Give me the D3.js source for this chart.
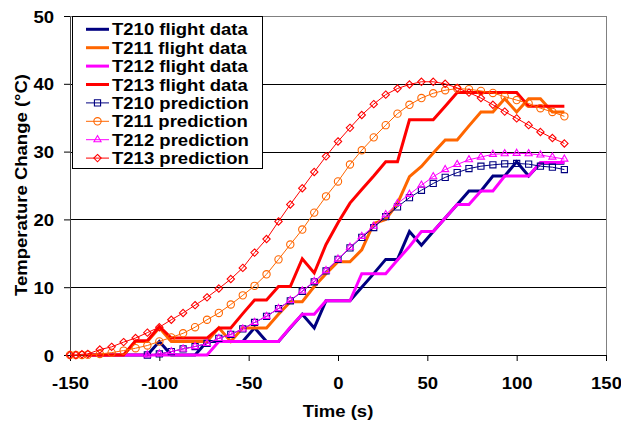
<!DOCTYPE html>
<html>
<head>
<meta charset="utf-8">
<script src="https://cdn.jsdelivr.net/npm/d3@7"></script>
<style>
  html, body { margin: 0; padding: 0; background: #fff; }
  svg { display: block; }
  text { font-family: "Liberation Sans", Arial, sans-serif; font-weight: bold; }
</style>
</head>
<body>
<svg id="chart" width="621" height="422"></svg>
<script>
// Model prediction time grid (s)
const predTime = [-150, -146.7, -143.3, -140, -133.3, -126.7, -120, -113.3, -106.7, -100,
  -93.3, -86.7, -80, -73.3, -66.7, -60, -53.3, -46.7, -40, -33.3, -26.7, -20, -13.3, -6.7,
  0, 6.7, 13.3, 20, 26.7, 33.3, 40, 46.7, 53.3, 60, 66.7, 73.3, 80, 86.7, 93.3, 100, 106.7,
  113.3, 120, 126.7];

const t213Pred = [0, 0, 0.1, 0.15, 0.8, 1.2, 1.9, 2.5, 3.3, 4.1, 5.2, 6.2, 7.35, 8.5, 9.8,
  11.2, 12.85, 15.1, 17.1, 19.7, 22.2, 24.6, 27.0, 29.3, 31.5, 33.5, 35.4, 37.0, 38.4, 39.3,
  39.9, 40.3, 40.3, 40.0, 39.4, 38.7, 37.9, 36.9, 35.9, 34.9, 33.9, 32.9, 32.0, 31.2];

const t211Pred = [0, 0, 0, 0.05, 0.15, 0.35, 0.65, 1.0, 1.4, 2.0, 2.6, 3.2, 4.1, 5.2, 6.2,
  7.45, 8.8, 10.2, 11.9, 14.1, 16.3, 18.5, 21.0, 23.4, 25.6, 28.1, 30.2, 32.1, 33.9, 35.6,
  36.9, 37.9, 38.6, 39.05, 39.3, 39.2, 38.95, 38.65, 38.1, 37.6, 37.1, 36.4, 35.85, 35.2];

// T210 / T212 predictions begin at -106.7 s
const predTimeLate = predTime.slice(8);
const t210Pred = [0, 0.15, 0.5, 0.9, 1.25, 1.7, 2.45, 3.05, 3.85, 4.8, 5.7, 6.85, 8.0, 9.4,
  10.8, 12.4, 14.1, 15.8, 17.35, 18.8, 20.4, 21.85, 23.2, 24.3, 25.3, 26.2, 26.9, 27.5,
  27.85, 28.05, 28.2, 28.25, 28.15, 27.85, 27.7, 27.35];
const t212Pred = [0, 0.15, 0.5, 0.9, 1.25, 1.7, 2.45, 3.05, 3.85, 4.8, 5.7, 6.85, 8.05, 9.45,
  10.85, 12.45, 14.15, 15.9, 17.5, 19.0, 20.7, 22.35, 23.7, 25.05, 26.3, 27.35, 28.1, 28.8,
  29.2, 29.6, 29.7, 29.75, 29.7, 29.5, 29.2, 28.9];

// Flight measurements (s, °C)
const flightTime = [-140, -133.3, -126.7, -120, -113.3, -106.7, -100, -93.3, -86.7, -80,
  -73.3, -66.7, -60, -53.3, -46.7, -40, -33.3, -26.7, -20, -13.3, -6.7, 0, 6.7, 13.3, 20,
  26.7, 33.3, 40, 46.7, 53.3, 60, 66.7, 73.3, 80, 86.7, 93.3, 100, 106.7, 113.3, 120, 126.7];

const t210Flight = [0, 0, 0, 0, 0, 0, 2, 0, 0, 0, 2, 2, 2, 2, 4, 2, 2, 4, 6, 4, 8, 8, 8, 10,
  12, 14.1, 14.1, 18.2, 16.2, 18.2, 20.2, 22.2, 24.2, 24.2, 26.4, 26.4, 28.5, 26.4, 28.3,
  28.3, 28.3];
const t211Flight = [0, 0, 0, 0, 2, 2, 4, 2, 2, 2, 2, 4, 2, 4, 4, 4, 6, 7.85, 7.85, 10.1, 12,
  13.75, 13.75, 15.5, 19.4, 20, 22.35, 26.3, 27.8, 29.8, 31.7, 31.7, 33.8, 35.85, 35.85,
  37.8, 35.85, 37.8, 37.8, 35.85, 35.85];
const t212Flight = [0, 0, 0, 0, 0, 0, 0, 0, 0, 0, 0, 2, 2, 2, 2, 2, 2, 4.1, 6, 6, 8, 8, 8,
  12, 12, 12, 14, 16, 18.2, 18.2, 20.2, 22.2, 22.2, 24.2, 24.2, 26.4, 26.4, 26.4, 28.4,
  28.4, 28.4];
const t213Flight = [0, 0, 0, 0, 2.1, 2.1, 4.2, 2.5, 2.5, 2.5, 2.5, 4, 4, 6.1, 8.1, 8.1, 10.1,
  10.1, 14.2, 12.1, 16.3, 19.5, 22.4, 24.4, 26.4, 28.5, 28.5, 34.7, 34.7, 34.7, 36.7, 38.7,
  38.7, 38.7, 38.7, 38.7, 38.7, 36.7, 36.7, 36.7, 36.7];

const xTicks = [-150, -100, -50, 0, 50, 100, 150];
const yTicks = [0, 10, 20, 30, 40, 50];

// diamond marker: a square turned by 45 degrees
const diamond = {
  draw(ctx, size) {
    const h = Math.sqrt(size / 2);
    ctx.moveTo(0, -h); ctx.lineTo(h, 0); ctx.lineTo(0, h); ctx.lineTo(-h, 0); ctx.closePath();
  }
};

const series = [
  { name: "T210 flight data", t: flightTime, v: t210Flight, color: "#000080", width: 3, marker: null },
  { name: "T211 flight data", t: flightTime, v: t211Flight, color: "#FF6600", width: 3, marker: null },
  { name: "T212 flight data", t: flightTime, v: t212Flight, color: "#FF00FF", width: 3, marker: null },
  { name: "T213 flight data", t: flightTime, v: t213Flight, color: "#FF0000", width: 3, marker: null },
  { name: "T210 prediction", t: predTimeLate, v: t210Pred, color: "#000080", width: 1, marker: d3.symbolSquare, size: 38 },
  { name: "T211 prediction", t: predTime, v: t211Pred, color: "#FF6600", width: 1, marker: d3.symbolCircle, size: 42 },
  { name: "T212 prediction", t: predTimeLate, v: t212Pred, color: "#FF00FF", width: 1, marker: d3.symbolTriangle, size: 22 },
  { name: "T213 prediction", t: predTime, v: t213Pred, color: "#FF0000", width: 1, marker: diamond, size: 27 }
];

const svg = d3.select("#chart");
const pLeft = 70, pRight = 606, pTop = 16, pBottom = 355;
const TX = 1.09; // horizontal stretch of chart lettering

const x = d3.scaleLinear().domain([-150, 150]).range([pLeft, pRight]);
const y = d3.scaleLinear().domain([0, 50]).range([pBottom, pTop]);

// plot frame
svg.append("rect")
  .attr("x", pLeft + 0.5).attr("y", pTop + 0.5)
  .attr("width", pRight - pLeft).attr("height", pBottom - pTop)
  .attr("fill", "#fff").attr("stroke", "#808080").attr("stroke-width", 1);

// horizontal gridlines
svg.append("g").selectAll("line")
  .data(yTicks.filter(d => d > 0 && d < 50))
  .join("line")
  .attr("x1", pLeft).attr("x2", pRight)
  .attr("y1", d => Math.round(y(d)) + 0.5).attr("y2", d => Math.round(y(d)) + 0.5)
  .attr("stroke", "#000").attr("stroke-width", 1);

// axes
const xAxis = svg.append("g")
  .attr("transform", `translate(0,${pBottom})`)
  .call(d3.axisBottom(x).tickValues(xTicks).tickSize(6).tickSizeOuter(0));
xAxis.select(".domain").attr("stroke", "#000");
xAxis.selectAll(".tick line").attr("stroke", "#000");
xAxis.selectAll(".tick text")
  .attr("y", 34).attr("dy", null)
  .attr("transform", `scale(${TX},1)`)
  .attr("font-size", 17).attr("fill", "#000")
  .text(d => String(d));

const yAxis = svg.append("g")
  .attr("transform", `translate(${pLeft},0)`)
  .call(d3.axisLeft(y).tickValues(yTicks).tickSize(6).tickSizeOuter(0));
yAxis.select(".domain").attr("stroke", "#404040");
yAxis.selectAll(".tick line").attr("stroke", "#000");
yAxis.selectAll(".tick text")
  .attr("x", null).attr("dy", "0.36em")
  .attr("transform", `translate(-16,0) scale(${TX},1)`)
  .attr("font-size", 17).attr("fill", "#000")
  .text(d => String(d));

// axis titles
svg.append("text")
  .attr("transform", `translate(338,417) scale(${TX},1)`)
  .attr("text-anchor", "middle").attr("font-size", 17)
  .text("Time (s)");
svg.append("text")
  .attr("transform", `translate(26.5,185) rotate(-90) scale(${TX},1)`)
  .attr("text-anchor", "middle").attr("font-size", 17)
  .text("Temperature Change (°C)");

// series
const line = d3.line().x(d => x(d[0])).y(d => y(d[1]));
const plot = svg.append("g");
series.forEach(s => {
  const pts = s.t.map((t, i) => [t, s.v[i]]);
  plot.append("path")
    .attr("d", line(pts))
    .attr("fill", "none")
    .attr("stroke", s.color)
    .attr("stroke-width", s.width)
    .attr("stroke-linejoin", "miter");
  if (s.marker) {
    plot.append("g").selectAll("path")
      .data(pts)
      .join("path")
      .attr("transform", d => `translate(${x(d[0])},${y(d[1])})`)
      .attr("d", d3.symbol(s.marker, s.size))
      .attr("fill", "none")
      .attr("stroke", s.color)
      .attr("stroke-width", 1.1);
  }
});

// legend
const lg = svg.append("g");
lg.append("rect")
  .attr("x", 72.5).attr("y", 16.5).attr("width", 190).attr("height", 152)
  .attr("fill", "#fff").attr("stroke", "#000").attr("stroke-width", 1);
series.forEach((s, i) => {
  const cy = 29.3 + i * 18.4;
  lg.append("line")
    .attr("x1", 86).attr("x2", 109).attr("y1", cy).attr("y2", cy)
    .attr("stroke", s.color).attr("stroke-width", s.width);
  if (s.marker) {
    lg.append("path")
      .attr("transform", `translate(97.5,${cy})`)
      .attr("d", d3.symbol(s.marker, s.size))
      .attr("fill", "none").attr("stroke", s.color).attr("stroke-width", 1.1);
  }
  lg.append("text")
    .attr("transform", `translate(112,${cy + 6}) scale(${TX},1)`)
    .attr("font-size", 17)
    .text(s.name);
});
</script>
</body>
</html>
